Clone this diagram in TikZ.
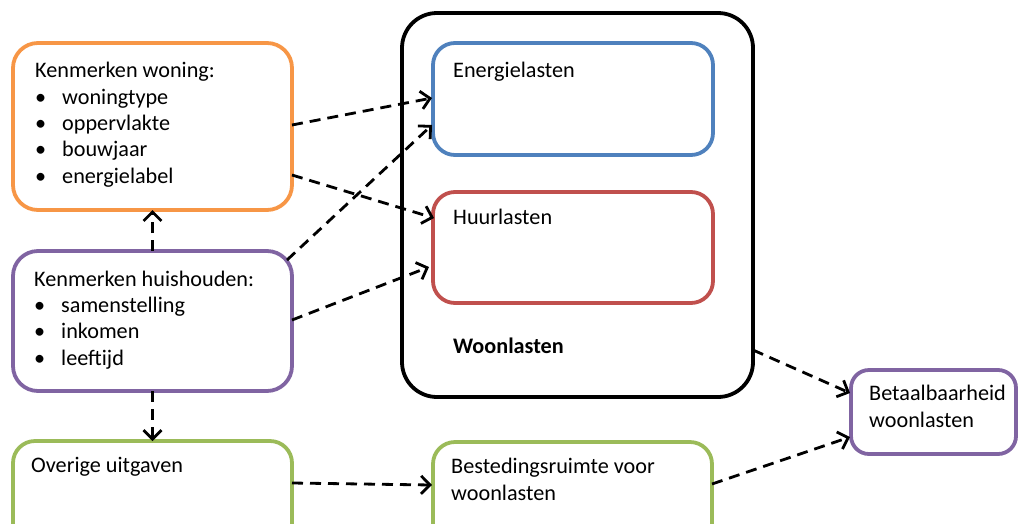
\documentclass[tikz,border=0pt]{standalone}
\usepackage{fontspec}
\setmainfont{Carlito}
\usetikzlibrary{arrows.meta}
\definecolor{cOrange}{HTML}{F79646}
\definecolor{cBlue}{HTML}{4F81BD}
\definecolor{cRed}{HTML}{C0504D}
\definecolor{cPurple}{HTML}{8064A2}
\definecolor{cGreen}{HTML}{9BBB59}
\tikzset{
  box/.style={draw, line width=3.8pt, rounded corners=#1, anchor=north west, inner sep=0pt, outer sep=0pt},
  txt/.style={anchor=base west, inner sep=0pt, align=left, font=\fontsize{22.2}{26.3}\selectfont},
  conn/.style={line width=2.8pt, dash pattern=on 11pt off 7pt, -{Straight Barb[length=9pt,width=18pt]}},
}
\newcommand{\bul}{\makebox[27pt][l]{\textbullet}}
\begin{document}
\begin{tikzpicture}[x=1pt,y=-1pt]
\useasboundingbox (0,0) rectangle (1019,523);
\clip (0,0) rectangle (1019,523);
% boxes
\node[box=25pt, draw=cOrange, minimum width=279pt, minimum height=167pt] (kw) at (13,43) {};
\node[box=25pt, draw=cPurple, minimum width=279pt, minimum height=140pt] (kh) at (13,251) {};
\node[box=22pt, draw=cGreen, minimum width=279pt, minimum height=120pt] (ou) at (13,441) {};
\node[box=35pt, draw=black, minimum width=351pt, minimum height=384pt] (wl) at (402,13) {};
\node[box=22pt, draw=cBlue, minimum width=280pt, minimum height=112pt] (el) at (433,43) {};
\node[box=22pt, draw=cRed, minimum width=280pt, minimum height=111pt] (hl) at (433,192) {};
\node[box=18pt, draw=cPurple, minimum width=165pt, minimum height=84pt] (bw) at (851,370) {};
\node[box=22pt, draw=cGreen, minimum width=279pt, minimum height=120pt] (br) at (433,442) {};
% texts (anchor is the baseline of the last line)
\node[txt] (tkw) at (35,183) {Kenmerken woning:\\\bul woningtype\\\bul oppervlakte\\\bul bouwjaar\\\bul energielabel};
\node[txt] (tkh) at (34,365) {Kenmerken huishouden:\\\bul samenstelling\\\bul inkomen\\\bul leeftijd};
\node[txt] (tou) at (31,472) {Overige uitgaven};
\node[txt] (tel) at (453,77) {Energielasten};
\node[txt] (thl) at (453,224) {Huurlasten};
\node[txt, font=\fontsize{22.2}{26.3}\selectfont\bfseries] (twl) at (453,353) {Woonlasten};
\node[txt] (tbw) at (869,427) {Betaalbaarheid\\woonlasten};
\node[txt] (tbr) at (451,500) {Bestedingsruimte voor\\woonlasten};
% connectors
\draw[conn] ([shift={(0,-1.5)}]kw.east) -- ([shift={(-1,-1)}]el.west);
\draw[conn] ([shift={(0,48.5)}]kw.east) -- ([shift={(1,-29.5)}]hl.west);
\draw[conn] ([shift={(-5,9)}]kh.north east) -- ([shift={(-1,26)}]el.west);
\draw[conn] ([shift={(0,-1)}]kh.east) -- ([shift={(-4,19.5)}]hl.west);
\draw[conn] (kh.north) -- (kw.south);
\draw[conn] (kh.south) -- (ou.north);
\draw[conn] ([shift={(0,-18)}]ou.east) -- ([shift={(-1,-17)}]br.west);
\draw[conn] ([shift={(0,145)}]wl.east) -- ([shift={(-1,-19)}]bw.west);
\draw[conn] ([shift={(0,-18)}]br.east) -- ([shift={(-1,25)}]bw.west);
\end{tikzpicture}
\end{document}
